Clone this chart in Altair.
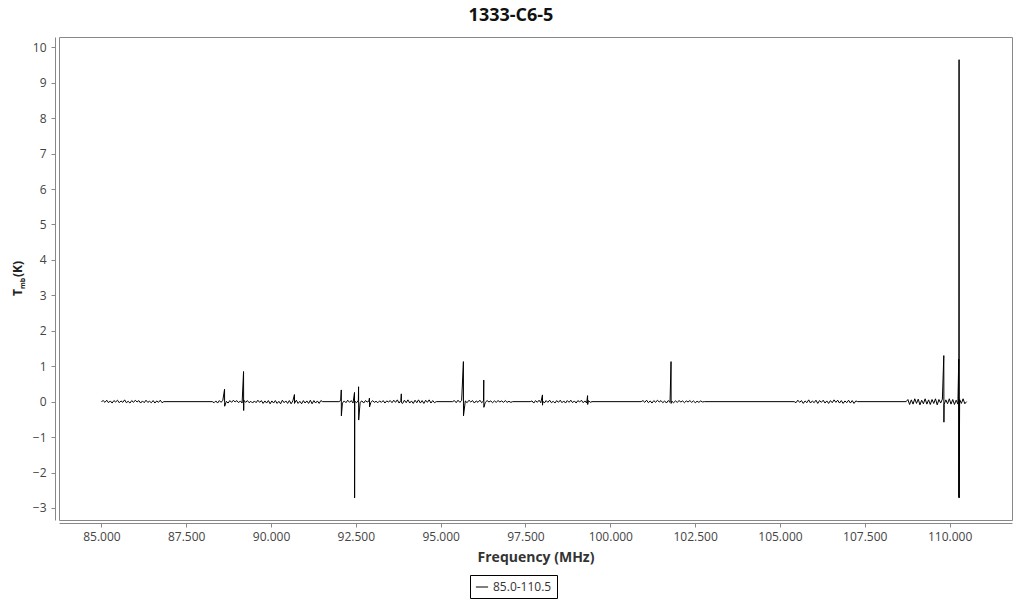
import altair as alt
import numpy as np
import pandas as pd

# Segment edges (MHz axis values as labelled)
seg_start = [85.00, 88.27, 92.00, 95.35, 97.64, 100.91, 105.42, 108.72]
seg_end = [86.84, 91.52, 94.87, 97.12, 99.46, 102.77, 107.29, 110.50]

noise1 = [0.0, 0.03, -0.02, 0.04, -0.03, 0.02, -0.04, 0.03, -0.01, 0.04, -0.03, 0.02, -0.02, 0.05, -0.03, 0.01, -0.04, 0.03,
          -0.02, 0.04, -0.01, 0.03, -0.04, 0.02, -0.03, 0.04, -0.02, 0.01, -0.03, 0.03, -0.04, 0.02, -0.02, 0.04, -0.03, 0.0]
noise2 = [0.0, -0.03, 0.02, -0.04, 0.03, -0.02, 0.04, -0.03, 0.01, -0.04, 0.03, -0.02, 0.04, -0.01, 0.03, -0.03, 0.02, -0.04,
          0.04, -0.02, 0.03, -0.03, 0.01, -0.04, 0.02, -0.03, 0.04, -0.02, 0.03, -0.05, 0.02, -0.04, 0.03, -0.06, 0.02, -0.04,
          0.03, -0.05, 0.01, -0.06, 0.04, -0.03, 0.02, -0.05, 0.03, -0.06, 0.02, -0.04, 0.04, -0.05, 0.01, -0.06, 0.03, -0.04,
          0.02, -0.05, 0.04, -0.06, 0.03, -0.04, 0.02, -0.05, 0.03, 0.0]
noise3 = [0.0, 0.03, -0.04, 0.02, -0.03, 0.04, -0.02, 0.03, -0.04, 0.01, -0.03, 0.04, -0.02, 0.02, -0.04, 0.03, -0.01, 0.02,
          -0.03, 0.03, -0.02, 0.01, -0.03, 0.02, -0.02, 0.03, -0.04, 0.02, -0.01, 0.03, -0.03, 0.04, -0.02, 0.05, -0.04, 0.03,
          -0.05, 0.04, -0.03, 0.05, -0.04, 0.02, -0.05, 0.04, -0.03, 0.05, -0.04, 0.03, -0.05, 0.04, -0.02, 0.05, -0.04, 0.03,
          -0.03, 0.0]
noise4 = [0.0, 0.03, -0.03, 0.04, -0.02, 0.03, -0.04, 0.02, -0.03, 0.04, -0.01, 0.03, -0.04, 0.02, -0.02, 0.04, -0.03, 0.02,
          -0.02, 0.03, -0.01, 0.02, -0.03, 0.02, -0.02, 0.03, -0.01, 0.02, -0.02, 0.03, -0.02, 0.01, -0.02, 0.0]
noise5 = [0.0, 0.02, -0.04, 0.03, -0.02, 0.04, -0.03, 0.02, -0.04, 0.03, -0.02, 0.04, -0.03, 0.01, -0.04, 0.03, -0.02, 0.04,
          -0.03, 0.02, -0.04, 0.03, -0.02, 0.04, -0.03, 0.02, -0.04, 0.03, -0.01, 0.04, -0.03, 0.02, -0.04, 0.03, -0.02, 0.0]
noise6 = [0.0, 0.03, -0.02, 0.04, -0.03, 0.02, -0.04, 0.03, -0.02, 0.04, -0.01, 0.03, -0.03, 0.02, -0.04, 0.03, -0.02, 0.01,
          -0.03, 0.02, -0.02, 0.03, -0.01, 0.02, -0.03, 0.02, -0.01, 0.03, -0.02, 0.02, -0.03, 0.01, -0.02, 0.02, -0.01, 0.0]
noise7 = [0.0, -0.03, 0.04, -0.02, 0.03, -0.05, 0.02, -0.03, 0.05, -0.04, 0.02, -0.03, 0.04, -0.05, 0.03, -0.02, 0.04, -0.04,
          0.02, -0.05, 0.03, -0.03, 0.05, -0.02, 0.04, -0.04, 0.03, -0.05, 0.02, -0.03, 0.04, -0.04, 0.03, -0.05, 0.02, 0.0]
noise8 = [0.0, 0.06, -0.08, 0.05, -0.07, 0.08, -0.05, 0.07, -0.09, 0.04, -0.06, 0.08, -0.07, 0.05, -0.08, 0.06, -0.05, 0.08,
          -0.09, 0.06, -0.04, 0.07, -0.08, 0.05, -0.06, 0.08, -0.07, 0.06, -0.08, 0.04, -0.07, 0.06, -0.05, 0.08, -0.06, 0.0]
noise = [noise1, noise2, noise3, noise4, noise5, noise6, noise7, noise8]

# Spectral lines: frequency, emission peak, absorption trough (K)
spike_freq = [88.63, 89.19, 90.69, 92.07, 92.46, 92.58, 92.90, 93.84, 95.67, 96.27, 98.00, 99.33, 101.79, 109.83, 110.27, 110.28]
spike_peak = [0.35, 0.85, 0.20, 0.33, 0.26, 0.42, 0.10, 0.22, 1.13, 0.61, 0.19, 0.17, 1.13, 1.30, 1.20, 9.65]
spike_trough = [-0.13, -0.25, -0.05, -0.40, -2.72, -0.52, -0.15, -0.03, -0.40, -0.16, -0.10, -0.08, -0.05, -0.58, -2.70, -2.72]

series_name = "85.0-110.5"
chart_title = "1333-C6-5"
x_ticks = [85.0, 87.5, 90.0, 92.5, 95.0, 97.5, 100.0, 102.5, 105.0, 107.5, 110.0]
y_ticks = list(range(-3, 11))

freqs, temps = [], []
for s, e, vals in zip(seg_start, seg_end, noise):
    freqs.extend(np.linspace(s, e, len(vals)).tolist())
    temps.extend(vals)
for f, p, t in zip(spike_freq, spike_peak, spike_trough):
    freqs.extend([f, f + 0.003])
    temps.extend([p, t])

df = pd.DataFrame({"freq": freqs, "T": temps, "series": series_name}).sort_values("freq")

FONT = "Open Sans"
W, H = 953, 483

line = alt.Chart(df).mark_line(strokeWidth=1, clip=True).encode(
    x=alt.X("freq:Q",
            scale=alt.Scale(domain=[83.75, 111.84], nice=False, zero=False),
            axis=alt.Axis(values=x_ticks, format=".3f", title="Frequency (MHz)", offset=3,
                          grid=False, tickSize=4, labelPadding=4, titlePadding=8)),
    y=alt.Y("T:Q",
            scale=alt.Scale(domain=[-3.34, 10.29], nice=False, zero=False),
            axis=alt.Axis(values=y_ticks, format="d", title=None, offset=4,
                          grid=False, tickSize=4, labelPadding=5)),
    color=alt.Color("series:N", scale=alt.Scale(domain=[series_name], range=["black"]),
                    legend=alt.Legend(title=None, orient="none", legendX=411, legendY=538,
                                      symbolType="stroke", symbolStrokeWidth=1, symbolSize=150,
                                      strokeColor="black", padding=5, fillColor="white",
                                      labelFont=FONT, labelFontSize=12, labelColor="#333333")),
    order="freq:Q",
)

def txt(t, x, y, size, angle=0, align="left", color="#222222"):
    return alt.Chart(pd.DataFrame({"t": [t]})).mark_text(
        angle=angle, align=align, baseline="alphabetic", font=FONT, fontWeight="bold",
        fontSize=size, color=color
    ).encode(x=alt.value(x), y=alt.value(y), text="t:N")

title_T = txt("T", -37.5, 259, 12, angle=270)
title_mb = txt("mb", -34, 252, 7, angle=270)
title_K = txt("(K)", -37.5, 240, 12, angle=270)
main_title = txt(chart_title, 452, -16, 18, align="center", color="#111111")

chart = alt.layer(line, title_T, title_mb, title_K, main_title).properties(
    width=W, height=H,
    autosize=alt.AutoSizeParams(type="none"),
    padding={"left": 51, "top": 29, "right": 4, "bottom": 80},
).configure_view(stroke="#888888", strokeWidth=1).configure_axis(
    domainColor="#888888", tickColor="#888888", labelFont=FONT, labelFontSize=12,
    labelColor="#444444", titleFont=FONT, titleFontSize=14, titleFontWeight="bold", titleColor="#333333"
)

chart.save("out.html", embed_options={"renderer": "svg", "actions": False})
